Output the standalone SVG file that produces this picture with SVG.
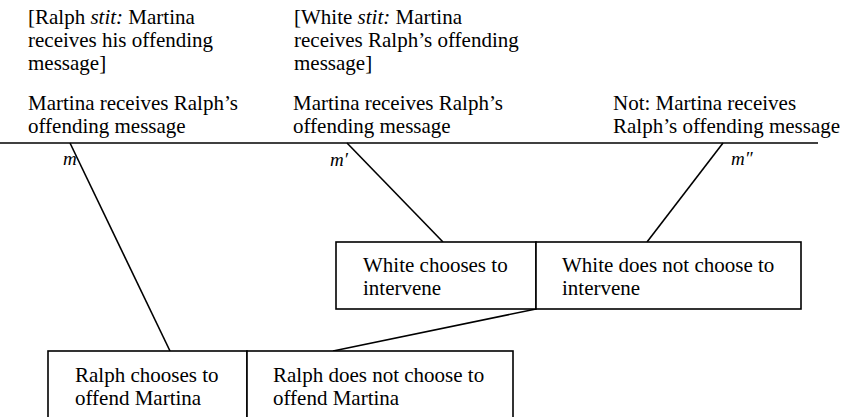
<svg xmlns="http://www.w3.org/2000/svg" width="849" height="417" viewBox="0 0 849 417">
<style>
text{font-family:"Liberation Serif","Times New Roman",serif;font-size:21px;fill:#000}
.lbl{font-style:italic;font-size:19px}
.box{fill:#fff;stroke:#000;stroke-width:1.6}
.con{stroke:#000;stroke-width:1.6;fill:none}
</style>
<rect width="849" height="417" fill="#fff"/>
<g id="labels">
<text x="28" y="24">[Ralph <tspan font-style="italic">stit:</tspan> Martina</text>
<text x="28" y="47">receives his offending</text>
<text x="28" y="70">message]</text>
<text x="28" y="110">Martina receives Ralph’s</text>
<text x="28" y="133">offending message</text>
<text x="294" y="24">[White <tspan font-style="italic">stit:</tspan> Martina</text>
<text x="294" y="47">receives Ralph’s offending</text>
<text x="294" y="70">message]</text>
<text x="293" y="110">Martina receives Ralph’s</text>
<text x="293" y="133">offending message</text>
<text x="613" y="110">Not: Martina receives</text>
<text x="613" y="133">Ralph’s offending message</text>
</g>
<g id="connectors">
<line class="con" x1="0" y1="143" x2="818" y2="143" stroke-width="2"/>
<line class="con" x1="70" y1="143" x2="170" y2="351"/>
<line class="con" x1="347" y1="143" x2="443" y2="242"/>
<line class="con" x1="723" y1="143" x2="647" y2="242"/>
<line class="con" x1="333" y1="351" x2="536" y2="309"/>
</g>
<g id="moments">
<text class="lbl" x="63" y="165">m</text>
<text class="lbl" x="330" y="166">m′</text>
<text class="lbl" x="731" y="165">m″</text>
</g>
<g id="white-chooses">
<rect class="box" x="336" y="242" width="200" height="67"/>
<text x="363" y="272">White chooses to</text>
<text x="363" y="295">intervene</text>
</g>
<g id="white-not">
<rect class="box" x="536" y="242" width="265" height="67"/>
<text x="562" y="272">White does not choose to</text>
<text x="562" y="295">intervene</text>
</g>
<g id="ralph-chooses">
<rect class="box" x="48" y="351" width="199" height="80"/>
<text x="75" y="382">Ralph chooses to</text>
<text x="75" y="405">offend Martina</text>
</g>
<g id="ralph-not">
<rect class="box" x="247" y="351" width="266" height="80"/>
<text x="273" y="382">Ralph does not choose to</text>
<text x="273" y="405">offend Martina</text>
</g>
</svg>
